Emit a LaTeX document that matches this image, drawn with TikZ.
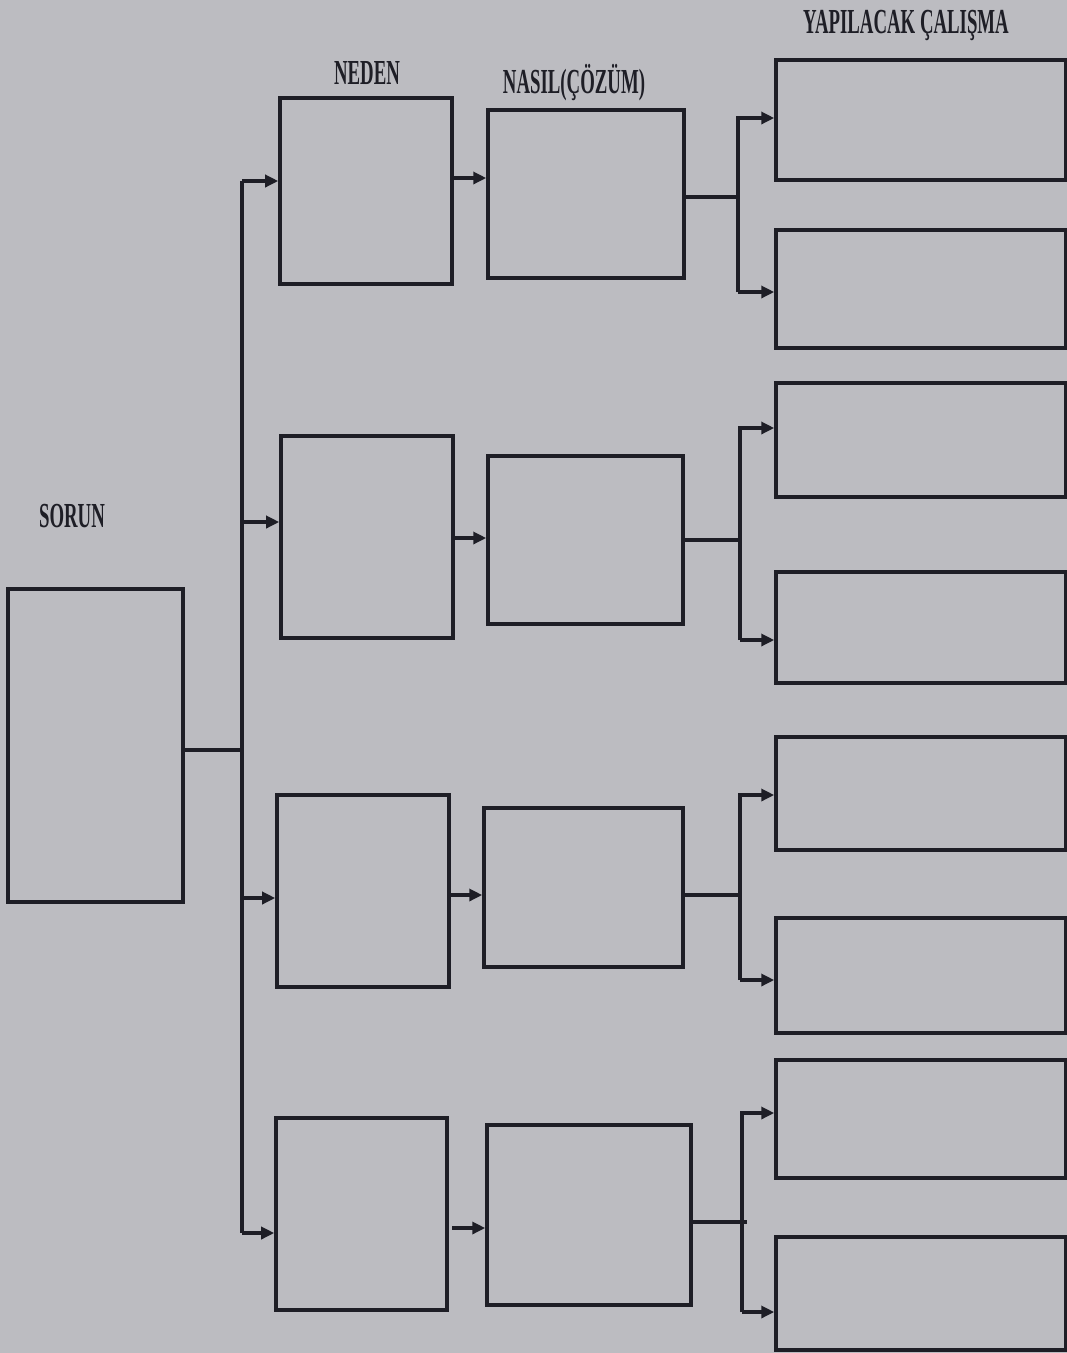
\documentclass[tikz,border=0pt]{standalone}
\usepackage{fontspec}
\setmainfont{Liberation Serif}
\usetikzlibrary{arrows.meta}
\definecolor{paper}{RGB}{188,188,193}
\definecolor{ink}{RGB}{30,30,38}
\begin{document}
\begin{tikzpicture}[x=0.02cm,y=-0.02cm,
  box/.style 2 args={draw=ink,line width=2pt,minimum width=#1*0.02cm,minimum height=#2*0.02cm,inner sep=0pt},
  head/.style={text=ink,font=\fontsize{20}{24}\selectfont\bfseries,xscale=0.535,inner sep=0pt},
  link/.style={draw=ink,line width=1.9pt},
  arr/.style={link,-{Triangle[length=2.6mm,width=2.4mm]}}]
  \fill[paper] (0,0) rectangle (1067,1353);
  \useasboundingbox (0,0) rectangle (1067,1353);

  % headings
  \node[head] (hsorun) at (72,516) {SORUN};
  \node[head] (hneden) at (367,73) {NEDEN};
  \node[head] (hnasil) at (574,83) {NASIL(ÇÖZÜM)};
  \node[head] (hyap) at (906,25) {YAPILACAK ÇALIŞMA};

  % problem
  \node[box={175}{313}] (sorun) at (95.5,745.5) {};

  % causes
  \node[box={172}{186}] (neden1) at (366,191) {};
  \node[box={172}{202}] (neden2) at (367,537) {};
  \node[box={172}{192}] (neden3) at (363,891) {};
  \node[box={171}{192}] (neden4) at (361.5,1214) {};

  % solutions
  \node[box={196}{168}] (nasil1) at (586,194) {};
  \node[box={195}{168}] (nasil2) at (585.5,540) {};
  \node[box={199}{159}] (nasil3) at (583.5,887.5) {};
  \node[box={204}{180}] (nasil4) at (589,1215) {};

  % work to do
  \node[box={290}{120}] (yap1) at (921,120) {};
  \node[box={290}{118}] (yap2) at (921,289) {};
  \node[box={290}{114}] (yap3) at (921,440) {};
  \node[box={290}{111}] (yap4) at (921,627.5) {};
  \node[box={290}{113}] (yap5) at (921,793.5) {};
  \node[box={290}{115}] (yap6) at (921,975.5) {};
  \node[box={290}{118}] (yap7) at (921,1119) {};
  \node[box={290}{113}] (yap8) at (921,1293.5) {};

  % trunk from the problem to the causes
  \coordinate (trunk) at (242,750);
  \coordinate (t1) at (242,181);
  \coordinate (t2) at (242,522);
  \coordinate (t3) at (242,898);
  \coordinate (t4) at (242,1233);
  \draw[link] (sorun.east |- trunk) -- (trunk);
  \draw[link] (t1) -- (t4);
  \draw[arr] (t1) -- (neden1.west |- t1);
  \draw[arr] (t2) -- (neden2.west |- t2);
  \draw[arr] (t3) -- (neden3.west |- t3);
  \draw[arr] (t4) -- (neden4.west |- t4);

  % causes to solutions
  \coordinate (c1) at (452,178);
  \coordinate (c2) at (453,538);
  \coordinate (c3) at (449,895);
  \coordinate (c4) at (452,1228);
  \draw[arr] (c1) -- (nasil1.west |- c1);
  \draw[arr] (c2) -- (nasil2.west |- c2);
  \draw[arr] (c3) -- (nasil3.west |- c3);
  \draw[arr] (c4) -- (nasil4.west |- c4);

  % solutions to work to do
  \coordinate (s1) at (738,197);
  \coordinate (s2) at (740,540);
  \coordinate (s3) at (740,895);
  \coordinate (s4) at (742,1222);
  \draw[link] (nasil1.east |- s1) -- (s1);
  \draw[link] (nasil2.east |- s2) -- (s2);
  \draw[link] (nasil3.east |- s3) -- (s3);
  \draw[link] (nasil4.east |- s4) -- ++(54,0);
  \draw[arr] (s1 |- 0,292) -- (s1 |- 0,118) -- (yap1.west |- 0,118);
  \draw[arr] (s1 |- 0,292) -- (yap2.west |- 0,292);
  \draw[arr] (s2 |- 0,640) -- (s2 |- 0,428) -- (yap3.west |- 0,428);
  \draw[arr] (s2 |- 0,640) -- (yap4.west |- 0,640);
  \draw[arr] (s3 |- 0,980) -- (s3 |- 0,795) -- (yap5.west |- 0,795);
  \draw[arr] (s3 |- 0,980) -- (yap6.west |- 0,980);
  \draw[arr] (s4 |- 0,1312) -- (s4 |- 0,1113) -- (yap7.west |- 0,1113);
  \draw[arr] (s4 |- 0,1312) -- (yap8.west |- 0,1312);
\end{tikzpicture}
\end{document}
